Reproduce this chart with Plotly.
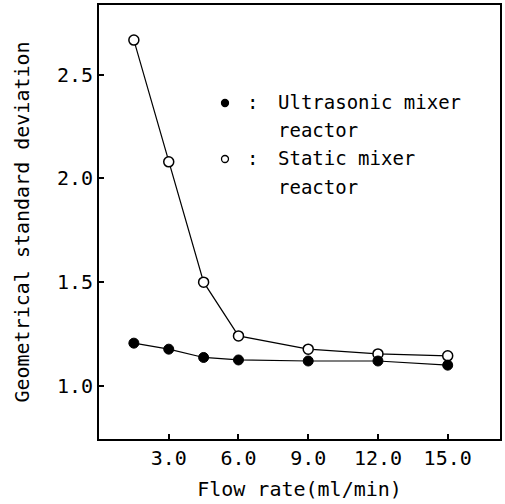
import plotly.graph_objects as go

flow_rate = [1.5, 3.0, 4.5, 6.0, 9.0, 12.0, 15.0]
ultrasonic = [1.206, 1.177, 1.137, 1.125, 1.120, 1.120, 1.100]
static = [2.667, 2.080, 1.500, 1.241, 1.177, 1.154, 1.145]
x_ticks = [3.0, 6.0, 9.0, 12.0, 15.0]
x_tick_labels = ["3.0", "6.0", "9.0", "12.0", "15.0"]
y_ticks = [1.0, 1.5, 2.0, 2.5]
y_tick_labels = ["1.0", "1.5", "2.0", "2.5"]
legend_texts = ["Ultrasonic mixer", "reactor", "Static mixer", "reactor"]

FONT = "DejaVu Sans Mono"
FS = 20

fig = go.Figure()
fig.add_trace(go.Scatter(
    x=flow_rate, y=static, mode="lines+markers",
    line=dict(color="black", width=1.2),
    marker=dict(symbol="circle", size=10, color="white",
                line=dict(color="black", width=1.5)),
    showlegend=False,
))
fig.add_trace(go.Scatter(
    x=flow_rate, y=ultrasonic, mode="lines+markers",
    line=dict(color="black", width=1.2),
    marker=dict(symbol="circle", size=10, color="black",
                line=dict(color="black", width=1)),
    showlegend=False,
))

axis_common = dict(
    showline=True, linecolor="black", linewidth=1.8, mirror=True,
    ticks="inside", ticklen=5, tickwidth=1.5, tickcolor="black",
    showgrid=False, zeroline=False,
    tickfont=dict(family=FONT, size=FS, color="black"),
)

fig.update_xaxes(
    range=[0, 17.25], tickvals=x_ticks, ticktext=x_tick_labels,
    title=dict(text="Flow rate(ml/min)", font=dict(family=FONT, size=FS, color="black"), standoff=13),
    **axis_common,
)
fig.update_yaxes(
    range=[0.744, 2.836], tickvals=y_ticks, ticktext=y_tick_labels,
    title=dict(text="Geometrical standard deviation", font=dict(family=FONT, size=FS, color="black"), standoff=22),
    **axis_common,
)

# legend drawn manually
W, H = 505, 504
ml, mr, mt, mb = 99, 5, 5, 65
pw, ph = W - ml - mr, H - mt - mb

def px_x(p):
    return (p - ml) / pw

def px_y(p):
    return 1 - (p - mt) / ph

for yy, txt in zip([102, 130, 158, 187], legend_texts):
    fig.add_annotation(
        xref="paper", yref="paper", x=px_x(276), y=px_y(yy),
        xanchor="left", yanchor="middle", showarrow=False,
        text=txt.replace(" ", "&nbsp;"),
        font=dict(family=FONT, size=19, color="black"),
    )

for yy in [102, 158]:
    fig.add_annotation(
        xref="paper", yref="paper", x=px_x(252), y=px_y(yy),
        xanchor="center", yanchor="middle", showarrow=False,
        text=":", font=dict(family=FONT, size=19, color="black"),
    )

for yy, filled in [(103, True), (159, False)]:
    fig.add_shape(
        type="circle", xref="paper", yref="paper",
        xsizemode="pixel", ysizemode="pixel",
        xanchor=px_x(225), yanchor=px_y(yy),
        x0=-3.5, x1=3.5, y0=-3.5, y1=3.5,
        fillcolor="black" if filled else "white",
        line=dict(color="black", width=1.3),
    )

fig.update_layout(
    width=W, height=H,
    margin=dict(l=ml, r=mr, t=mt, b=mb, autoexpand=False),
    plot_bgcolor="white", paper_bgcolor="white",
    showlegend=False,
)

fig.write_html("out.html", config={"displayModeBar": False},
               post_script="document.body.style.margin='0';")
